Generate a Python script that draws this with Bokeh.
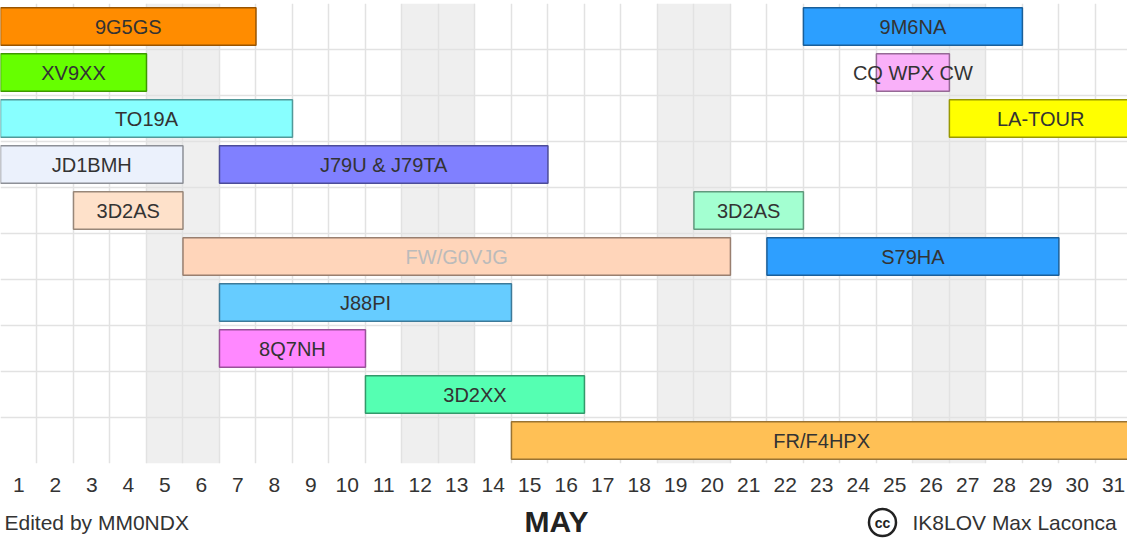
from bokeh.plotting import figure
from bokeh.layouts import column
from bokeh.models import Range1d, FixedTicker, ColumnDataSource
from bokeh.core.properties import value
from bokeh.embed import file_html
from bokeh.resources import INLINE

# ---- data ----
callsigns = ["9G5GS", "9M6NA", "XV9XX", "CQ WPX CW", "TO19A", "LA-TOUR",
             "JD1BMH", "J79U & J79TA", "3D2AS", "3D2AS", "FW/G0VJG", "S79HA",
             "J88PI", "8Q7NH", "3D2XX", "FR/F4HPX"]
rows = [0, 0, 1, 1, 2, 2, 3, 3, 4, 4, 5, 5, 6, 7, 8, 9]
start_day = [1, 23, 1, 25, 1, 27, 1, 7, 3, 20, 6, 22, 7, 7, 11, 15]
end_day = [7, 28, 4, 26, 8, 31, 5, 15, 5, 22, 20, 29, 14, 10, 16, 31]
fill_colors = ["#FF8C00", "#2C9FFF", "#66FF00", "#F9B0F9", "#88FFFF", "#FFFF00",
               "#EBF1FC", "#8080FF", "#FEE1CA", "#A3FFD1", "#FFD5BA", "#2E9FFF",
               "#66CCFF", "#FF88FF", "#55FFB2", "#FFC055"]
text_colors = ["#333333"] * 10 + ["#BBBBBB"] + ["#333333"] * 5
days = list(range(1, 32))
weekend_days = [5, 6, 12, 13, 19, 20, 26, 27]
n_rows = 10
month_name = "MAY"
editor_text = "Edited by MM0NDX"
author_text = "IK8LOV Max Laconca"
cc_text = "cc"


def darker(hex_color, f=0.6):
    h = hex_color.lstrip("#")
    r, g, b = (int(h[i:i + 2], 16) for i in (0, 2, 4))
    return "#%02x%02x%02x" % (int(r * f), int(g * f), int(b * f))


line_colors = [darker(c) for c in fill_colors]

FONT = "Liberation Sans"
W = 1127
H_MAIN = 500
H_FOOT = 38
x0, x1 = 0.5, 31.38

p = figure(width=W, height=H_MAIN, output_backend="svg", toolbar_location=None,
           x_range=Range1d(x0, x1), y_range=Range1d(n_rows, 0),
           min_border_left=0, min_border_right=0, min_border_top=3,
           min_border_bottom=37)
p.title = None
p.outline_line_color = None
p.background_fill_color = "white"
p.border_fill_color = "white"

# weekend shading
p.quad(left=[d - 0.5 for d in weekend_days], right=[d + 0.5 for d in weekend_days],
       top=0, bottom=n_rows, fill_color="#EFEFEF", line_color=None, level="image")

# grid
p.xgrid.ticker = FixedTicker(ticks=[d - 0.5 for d in days] + [days[-1] + 0.5])
p.ygrid.ticker = FixedTicker(ticks=list(range(0, n_rows + 1)))
for g in (p.xgrid, p.ygrid):
    g.grid_line_color = "#E2E2E2"
    g.grid_line_width = 1.5

# bars
src = ColumnDataSource(dict(
    left=[s - 0.5 for s in start_day],
    right=[e + 0.5 for e in end_day],
    top=[r + 0.09 for r in rows],
    bottom=[r + 0.91 for r in rows],
    xc=[(s + e) / 2 for s, e in zip(start_day, end_day)],
    yc=[r + 0.5 for r in rows],
    label=callsigns,
    fill=fill_colors,
    line=line_colors,
    tcol=text_colors,
))
p.quad(left="left", right="right", top="top", bottom="bottom", source=src,
       fill_color="fill", line_color="line", line_width=1.5)
p.text(x="xc", y="yc", text="label", source=src, text_color="tcol",
       text_align="center", text_baseline="middle",
       text_font=value(FONT), text_font_size="20px")

# axes
p.yaxis.visible = False
ax = p.xaxis[0]
ax.ticker = FixedTicker(ticks=days)
ax.major_label_text_font = FONT
ax.major_label_text_font_size = "21px"
ax.major_label_text_color = "#333333"
ax.major_tick_line_color = None
ax.minor_tick_line_color = None
ax.axis_line_color = None
ax.major_label_standoff = 8

# ---- footer strip (pixel coordinates) ----
foot = figure(width=W, height=H_FOOT, output_backend="svg", toolbar_location=None,
              x_range=Range1d(0, W), y_range=Range1d(H_FOOT, 0),
              min_border=0, min_border_left=0, min_border_right=0,
              min_border_top=0, min_border_bottom=0,
              x_axis_location=None, y_axis_location=None)
foot.title = None
foot.grid.visible = False
foot.outline_line_color = None
foot.border_fill_color = "white"
foot.background_fill_color = "white"

foot.text(x=[4], y=[22], text=[editor_text], text_font=value(FONT),
          text_font_size="21px", text_color="#333333",
          text_align="left", text_baseline="middle")
foot.text(x=[556], y=[21], text=[month_name], text_font=value(FONT),
          text_font_size="30px", text_font_style="bold", text_color="#222222",
          text_align="center", text_baseline="middle")
foot.scatter(x=[882], y=[22], size=27, marker="circle", fill_color=None,
             line_color="#222222", line_width=2.5)
foot.text(x=[882], y=[22], text=[cc_text], text_font=value(FONT),
          text_font_size="14px", text_font_style="bold", text_color="#222222",
          text_align="center", text_baseline="middle")
foot.text(x=[912], y=[22], text=[author_text], text_font=value(FONT),
          text_font_size="21px", text_color="#333333",
          text_align="left", text_baseline="middle")

layout = column(p, foot, spacing=0)
open("out.html", "w").write(file_html(layout, INLINE))
